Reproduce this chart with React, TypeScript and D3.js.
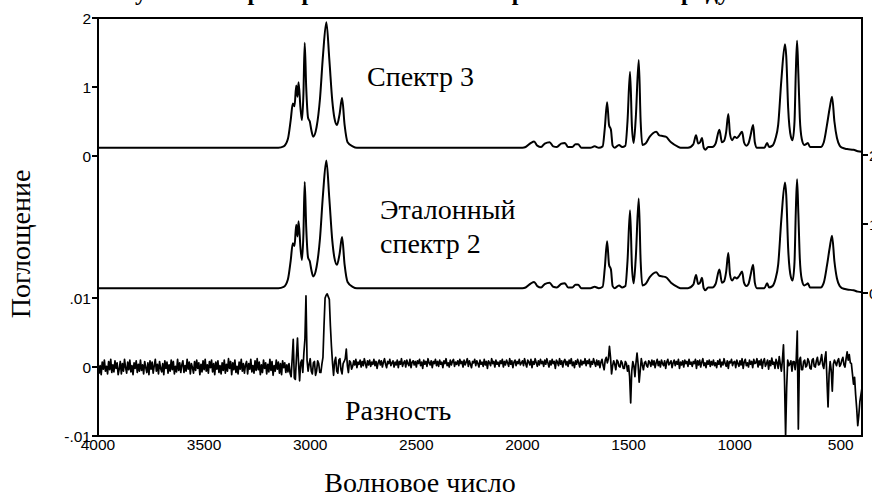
import React from "react";
import * as d3 from "d3";

// Absorbance spectra: [wavenumber cm⁻¹, sample (spectrum 3), reference (spectrum 2)]
const spectrumPoints: [number, number, number][] = [
  [4000, 0.12, 0.07], [3600, 0.12, 0.07], [3300, 0.12, 0.07], [3150, 0.12, 0.07],
  [3125, 0.14, 0.09], [3105, 0.25, 0.2], [3092, 0.52, 0.47], [3082, 0.76, 0.72],
  [3074, 0.72, 0.68], [3066, 1.02, 0.99], [3060, 0.86, 0.82], [3055, 1.07, 1.04],
  [3046, 0.7, 0.66], [3039, 0.52, 0.48], [3032, 0.9, 0.86], [3026, 1.64, 1.61],
  [3019, 1.0, 0.96], [3010, 0.55, 0.51], [3002, 0.5, 0.46], [2995, 0.38, 0.34],
  [2986, 0.28, 0.24], [2970, 0.42, 0.38], [2954, 0.83, 0.79], [2940, 1.45, 1.42],
  [2924, 1.94, 1.92], [2910, 1.4, 1.37], [2896, 0.8, 0.76], [2886, 0.55, 0.51],
  [2874, 0.45, 0.41], [2862, 0.6, 0.56], [2850, 0.84, 0.81], [2838, 0.45, 0.41],
  [2824, 0.2, 0.16], [2800, 0.14, 0.09], [2780, 0.12, 0.07], [2400, 0.12, 0.07],
  [2000, 0.12, 0.07], [1985, 0.13, 0.08], [1960, 0.19, 0.14], [1945, 0.21, 0.16],
  [1930, 0.15, 0.1], [1912, 0.13, 0.08], [1895, 0.18, 0.13], [1872, 0.2, 0.15],
  [1855, 0.14, 0.09], [1838, 0.13, 0.08], [1818, 0.18, 0.13], [1800, 0.19, 0.14],
  [1785, 0.13, 0.08], [1765, 0.13, 0.08], [1750, 0.17, 0.12], [1738, 0.17, 0.12],
  [1722, 0.12, 0.07], [1680, 0.12, 0.07], [1660, 0.14, 0.09], [1640, 0.12, 0.07],
  [1622, 0.14, 0.09], [1612, 0.4, 0.36], [1601, 0.78, 0.75], [1592, 0.45, 0.41],
  [1583, 0.38, 0.34], [1575, 0.15, 0.1], [1565, 0.12, 0.07], [1545, 0.16, 0.11],
  [1530, 0.13, 0.08], [1515, 0.15, 0.1], [1505, 0.5, 0.46], [1493, 1.22, 1.2],
  [1484, 0.42, 0.38], [1476, 0.19, 0.14], [1466, 0.55, 0.51], [1452, 1.39, 1.37],
  [1443, 0.5, 0.46], [1435, 0.16, 0.11], [1420, 0.18, 0.13], [1400, 0.28, 0.23],
  [1385, 0.33, 0.28], [1370, 0.35, 0.3], [1355, 0.3, 0.25], [1340, 0.29, 0.24],
  [1325, 0.28, 0.23], [1300, 0.2, 0.15], [1270, 0.14, 0.09], [1255, 0.12, 0.07],
  [1220, 0.12, 0.07], [1195, 0.17, 0.12], [1182, 0.3, 0.26], [1172, 0.18, 0.13],
  [1163, 0.2, 0.15], [1154, 0.26, 0.22], [1146, 0.12, 0.07], [1138, 0.09, 0.04],
  [1125, 0.13, 0.08], [1105, 0.13, 0.08], [1090, 0.18, 0.13], [1072, 0.38, 0.34],
  [1060, 0.2, 0.15], [1050, 0.22, 0.17], [1040, 0.35, 0.31], [1030, 0.61, 0.58],
  [1022, 0.32, 0.27], [1012, 0.23, 0.18], [1000, 0.28, 0.23], [990, 0.26, 0.21],
  [978, 0.3, 0.25], [965, 0.35, 0.31], [956, 0.2, 0.15], [945, 0.15, 0.1],
  [935, 0.18, 0.13], [925, 0.3, 0.26], [913, 0.45, 0.41], [905, 0.2, 0.15],
  [895, 0.12, 0.07], [860, 0.12, 0.07], [847, 0.19, 0.14], [838, 0.13, 0.08],
  [822, 0.15, 0.1], [808, 0.25, 0.2], [795, 0.45, 0.41], [780, 1.1, 1.07],
  [763, 1.62, 1.6], [757, 1.45, 1.42], [748, 0.7, 0.65], [735, 0.28, 0.23],
  [727, 0.23, 0.18], [718, 0.5, 0.45], [712, 1.2, 1.17], [706, 1.67, 1.65],
  [700, 1.2, 1.16], [693, 0.55, 0.5], [684, 0.25, 0.2], [672, 0.16, 0.11],
  [660, 0.18, 0.13], [655, 0.19, 0.14], [645, 0.13, 0.08], [620, 0.13, 0.08],
  [595, 0.13, 0.08], [580, 0.2, 0.15], [565, 0.45, 0.4], [552, 0.7, 0.66],
  [541, 0.86, 0.83], [530, 0.5, 0.46], [518, 0.26, 0.21], [505, 0.15, 0.1],
  [494, 0.12, 0.07], [470, 0.1, 0.05], [440, 0.09, 0.04], [420, 0.07, 0.02],
  [400, 0.06, 0.01],
];

// Difference spectrum (sample − reference), units of 1e-4,
// sampled every 5 cm⁻¹ from 4000 cm⁻¹; one row per 100 cm⁻¹
const differenceStart = 4000;
const differenceStep = 5;
const differenceValues = [
  4, -9, 2, -11, 7, -3, 10, -6, 1, -10, 8, -4, 11, -8, 3, -7, 9, -2, 6, -11,
  -3, 8, -10, 5, -6, 11, -1, -9, 7, -4, 10, -7, 2, -11, 6, -2, 9, -8, 4, -6,
  10, -5, 3, -10, 8, -1, -8, 6, -11, 9, -3, 7, -9, 2, 11, -6, 4, -10, 8, -2,
  -7, 5, -11, 9, -2, 7, -9, 3, -6, 10, -4, 8, -10, 1, -7, 11, -5, 6, -8, 3,
  9, -8, 2, -6, 11, -3, 7, -10, 5, -1, -9, 8, -5, 10, -2, 6, -11, 4, -7, 9,
  -4, 11, -6, 3, -9, 8, -1, 10, -7, 5, -11, 7, -3, 9, -8, 2, -10, 6, -5, 10,
  -9, 4, -6, 12, -2, 8, -11, 6, -4, 10, -8, 1, -10, 7, -3, 11, -6, 5, -9, 3,
  8, -10, 5, -3, 11, -7, 2, -9, 9, -5, 12, -4, 7, -11, 3, -8, 10, -2, 6, -10,
  4, -7, 11, -5, 8, -12, 2, -6, 10, -3, 7, -9, 5, -11, 9, -1, 6, -8, 3, -7,
  5, -9, -14, 12, 40, -16, -18, 14, 42, 5, -20, 6, 10, -8, 20, 40, 103, 10, -6, 4,
  12, -6, -10, 6, 8, -12, -6, 9, 5, -8, -8, 4, 14, 60, 100, 104, 106, 102, 98, 60,
  30, 6, -12, 8, 14, -6, -9, 10, 12, -4, -10, 5, 8, 12, 26, 2, -8, 9, 7, -3,
  1, 9, 3, 11, -1, 7, 4, 10, 0, 8, 2, 12, 5, -1, 9, 3, 10, 1, 7, 4,
  11, 2, 8, -2, 6, 10, 3, 9, 0, 7, 12, 4, -1, 8, 5, 11, 2, 6, 9, 0,
  7, 3, 10, -1, 8, 4, 12, 1, 6, 9, 0, 10, 5, 2, 11, -1, 7, 9, 3, 8,
  0, 9, 5, 11, 2, 7, -2, 10, 4, 8, 1, 12, 6, 3, 9, -1, 8, 5, 11, 2,
  8, 1, 10, 4, 7, -1, 9, 5, 12, 2, 6, 0, 10, 3, 8, 11, 1, 7, 4, 9,
  2, 11, 5, 8, 0, 10, 3, 7, 12, 1, 9, 4, -1, 8, 6, 11, 2, 9, 5, 0,
  10, 4, 7, 1, 11, 3, 8, -2, 9, 6, 2, 12, 5, 8, 0, 10, 4, 7, 1, 9,
  5, 11, 0, 8, 3, 10, 6, 1, 12, 4, 9, -1, 7, 10, 2, 8, 5, 11, 3, 6,
  9, 2, 12, 5, 0, 10, 7, 3, 11, -1, 8, 4, 12, 6, 1, 9, 3, 11, 5, 8,
  1, 10, 4, 12, 6, 0, 9, 3, 11, 5, 8, -2, 10, 7, 2, 12, 4, 9, 0, 8,
  11, 3, 8, 1, 10, 5, 12, 2, 7, -1, 9, 4, 11, 6, 0, 10, 3, 8, 5, 12,
  2, 9, 5, 11, 0, 8, 4, 12, 6, 1, 10, 3, 9, -1, 7, 11, 2, -4, 10, 14,
  6, 12, 30, 14, -10, 2, 9, 4, -4, 10, 8, 1, 0, 9, 6, -2, -2, 8, 5, -6,
  2, -14, -52, -6, 8, 2, -14, 6, 20, 4, -22, -5, 12, 3, -4, 6, 8, 2, 0, 9,
  7, 1, 10, 3, 9, -1, 6, 11, 2, 8, 0, 10, 5, 2, 9, -2, 7, 11, 3, 6,
  9, -1, 6, 10, 2, 8, 4, 11, -2, 7, 3, 9, 0, 10, 5, 8, 1, 11, 4, 7,
  1, 8, 5, 11, -2, 9, 3, 10, 0, 7, 12, 2, 6, -1, 9, 4, 10, 1, 8, 3,
  10, 2, 6, -1, 9, 4, 11, 0, 7, 3, 12, 5, 1, 9, -2, 8, 6, 11, 2, 7,
  8, -1, 10, 5, 1, 9, 3, 12, -2, 7, 11, 2, 6, 0, 10, 4, 8, -1, 11, 5,
  6, 12, 0, 9, 3, 11, -2, 8, 12, 1, 5, 10, -3, 9, 2, 13, 4, 7, -2, 11,
  6, -2, 15, 4, -6, 10, 32, -20, -100, -30, 10, 2, 4, 9, -6, 8, 8, -4, 10, 52,
  -90, 10, 14, -4, -4, 8, 10, 0, 2, 12, 8, -2, -3, 10, 12, 1, 0, 9, 14, 3,
  4, 10, 18, 3, -2, 12, 22, -20, -58, -10, 8, -5, -35, 4, 10, 6, 2, 9, 12, 1,
  4, 10, 14, 3, 0, 12, 22, 10, 18, 6, 5, -10, -25, -15, -40, -60, -85, -70, -50, -40,
  -30,
];

const xTicks = [4000, 3500, 3000, 2500, 2000, 1500, 1000, 500];
const upperTicks = [0, 1, 2];
const upperTickLabels = ["0", "1", "2"];
const lowerTicks = [-0.01, 0, 0.01];
const lowerTickLabels = ["-.01", "0", ".01"];
const rightTicks = [0, 1, 2];
const rightTickLabels = ["0", "1", "2"];

const W = 872;
const H = 497;
const frame = { left: 98, right: 862, top: 18, bottom: 436 };

const x = d3.scaleLinear().domain([4000, 400]).range([frame.left, frame.right]);
const yUpper = d3.scaleLinear().domain([0, 2]).range([156, frame.top]);
const yMiddle = d3.scaleLinear().domain([0, 2]).range([293, 155]);
const yLower = d3.scaleLinear().domain([-0.01, 0.01]).range([frame.bottom, 298]);

const sampleLine = d3
  .line<[number, number, number]>()
  .x((d) => x(d[0]))
  .y((d) => yUpper(d[1]))
  .curve(d3.curveMonotoneX);

const referenceLine = d3
  .line<[number, number, number]>()
  .x((d) => x(d[0]))
  .y((d) => yMiddle(d[2]))
  .curve(d3.curveMonotoneX);

const differenceLine = d3
  .line<number>()
  .x((_, i) => x(differenceStart - i * differenceStep))
  .y((v) => yLower(v * 1e-4));

const serif = "Liberation Serif, Tinos, DejaVu Serif, serif";
const sans = "Liberation Sans, Arimo, Arial, sans-serif";

export default function App() {
  return (
    <svg
      width={W}
      height={H}
      viewBox={`0 0 ${W} ${H}`}
      style={{ position: "fixed", left: 0, top: 0, background: "#fff" }}
    >
      <defs>
        <clipPath id="plot-area">
          <rect x={frame.left} y={frame.top} width={frame.right - frame.left} height={frame.bottom - frame.top} />
        </clipPath>
      </defs>
      <rect width={W} height={H} fill="#fff" />

      <text x={432} y={0} textAnchor="middle" style={{ fontFamily: serif, fontWeight: "bold", fontSize: 24 }} fill="#000">
        Рисунок 3 – Пример вычитания спектров эталона и продукта
      </text>

      <g clipPath="url(#plot-area)" fill="none" stroke="#000" strokeLinejoin="round">
        <path d={sampleLine(spectrumPoints) ?? ""} strokeWidth={2} />
        <path d={referenceLine(spectrumPoints) ?? ""} strokeWidth={2} />
        <path d={differenceLine(differenceValues) ?? ""} strokeWidth={1.7} />
      </g>

      {/* frame */}
      <g stroke="#000" strokeWidth={2} fill="none">
        <line x1={frame.left} x2={frame.right} y1={frame.top} y2={frame.top} />
        <line x1={frame.left} x2={frame.right} y1={frame.bottom} y2={frame.bottom} />
        <line x1={frame.left} x2={frame.left} y1={frame.top - 1} y2={frame.bottom + 1} />
        <line x1={frame.right} x2={frame.right} y1={frame.top - 1} y2={frame.bottom + 1} />
      </g>

      {/* axes */}
      <g style={{ fontFamily: sans, fontSize: 15.5 }} fill="#000">
        {upperTicks.map((t, i) => (
          <g key={`u${t}`}>
            <line x1={frame.left - 6} x2={frame.left} y1={yUpper(t)} y2={yUpper(t)} stroke="#000" strokeWidth={2} />
            <text x={frame.left - 7} y={yUpper(t) + 6} textAnchor="end">
              {upperTickLabels[i]}
            </text>
          </g>
        ))}
        {lowerTicks.map((t, i) => (
          <g key={`l${t}`}>
            <line x1={frame.left - 6} x2={frame.left} y1={yLower(t)} y2={yLower(t)} stroke="#000" strokeWidth={2} />
            <text x={frame.left - 7} y={yLower(t) + 6} textAnchor="end">
              {lowerTickLabels[i]}
            </text>
          </g>
        ))}
        {rightTicks.map((t, i) => (
          <g key={`r${t}`}>
            <line x1={frame.right} x2={frame.right + 6} y1={yMiddle(t)} y2={yMiddle(t)} stroke="#000" strokeWidth={2} />
            <text x={frame.right + 7} y={yMiddle(t) + 6} textAnchor="start">
              {rightTickLabels[i]}
            </text>
          </g>
        ))}
        {xTicks.map((t) => (
          <text key={`x${t}`} x={x(t)} y={frame.bottom + 14} textAnchor="middle">
            {t}
          </text>
        ))}
      </g>

      {/* annotations */}
      <g style={{ fontFamily: serif, fontSize: 28 }} fill="#000">
        <text x={367} y={86}>Спектр 3</text>
        <text x={380} y={219}>Эталонный</text>
        <text x={380} y={253}>спектр 2</text>
        <text x={345} y={420}>Разность</text>
        <text x={420} y={492} textAnchor="middle">Волновое число</text>
        <text transform="translate(30,244) rotate(-90)" textAnchor="middle">
          Поглощение
        </text>
      </g>
    </svg>
  );
}
